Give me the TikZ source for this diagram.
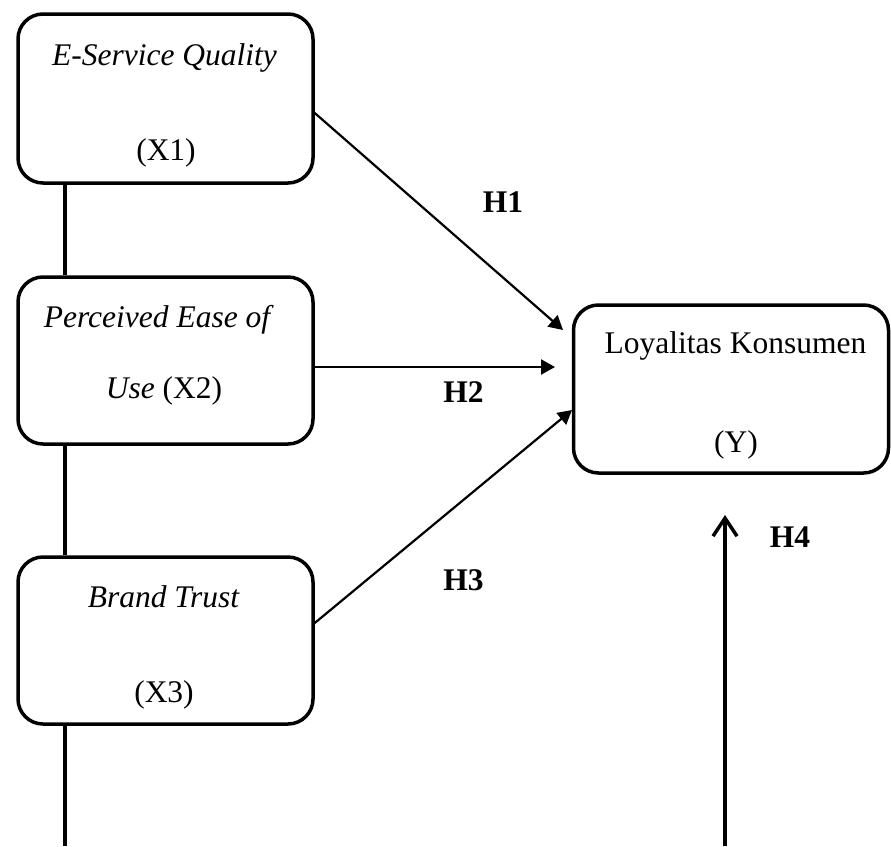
\documentclass[tikz,border=0pt]{standalone}
\usepackage{fontspec}
\setmainfont{Liberation Serif}
\usetikzlibrary{arrows.meta}
\begin{document}
\begin{tikzpicture}[x=1pt,y=-1pt,
  box/.style={draw, line width=3.5pt, rounded corners=25pt, inner sep=0pt},
  txt/.style={anchor=base, inner sep=0pt, font=\fontsize{31.5}{36}\selectfont},
  hlab/.style={txt, font=\fontsize{31.5}{36}\selectfont\bfseries},
  conn/.style={line width=3.5pt},
  harrow/.style={line width=2.2pt, -{Triangle[length=14pt,width=15pt]}},
  uparrow/.style={line width=3.5pt, -{Straight Barb[length=18pt,width=24pt]}}]
\useasboundingbox (0,0) rectangle (891,846);
% boxes
\node[box, minimum width=295pt, minimum height=169pt] (x1) at (165.5,98.5) {};
\node[box, minimum width=295pt, minimum height=167pt] (x2) at (165.5,360.5) {};
\node[box, minimum width=295pt, minimum height=167pt] (x3) at (165.5,640.5) {};
\node[box, minimum width=315pt, minimum height=168pt] (y) at (731,389) {};
% texts
\node[txt] (t1a) at (164.5,65) {\itshape E-Service Quality};
\node[txt] (t1b) at (166,160) {(X1)};
\node[txt] (t2a) at (157,327) {\itshape Perceived Ease of};
\node[txt] (t2b) at (164,398) {\textit{Use} (X2)};
\node[txt] (t3a) at (163.5,607) {\itshape Brand Trust};
\node[txt] (t3b) at (164,702) {(X3)};
\node[txt] (tya) at (735.5,353) {Loyalitas Konsumen};
\node[txt] (tyb) at (736,452) {(Y)};
% hypothesis labels
\node[hlab] (h1) at (503,212) {H1};
\node[hlab] (h2) at (463.5,402) {H2};
\node[hlab] (h3) at (463.5,590) {H3};
\node[hlab] (h4) at (790,547) {H4};
% connector ends
\coordinate (s1) at (x1.east |- 0,113);
\coordinate (e1) at (563,330);
\coordinate (s2) at (x2.east |- 0,367);
\coordinate (e2) at (555,367);
\coordinate (s3) at (x3.east |- 0,623);
\coordinate (e3) at (572,410);
\coordinate (vb) at (65,846);
\coordinate (ub) at (725,846);
\coordinate (ut) at (725,515);
% left vertical line
\draw[conn] (x1.south -| vb) -- (x2.north -| vb);
\draw[conn] (x2.south -| vb) -- (x3.north -| vb);
\draw[conn] (x3.south -| vb) -- (vb);
% arrows
\draw[harrow] (s1) -- (e1);
\draw[harrow] (s2) -- (e2);
\draw[harrow] (s3) -- (e3);
\draw[uparrow] (ub) -- (ut);
\end{tikzpicture}
\end{document}
